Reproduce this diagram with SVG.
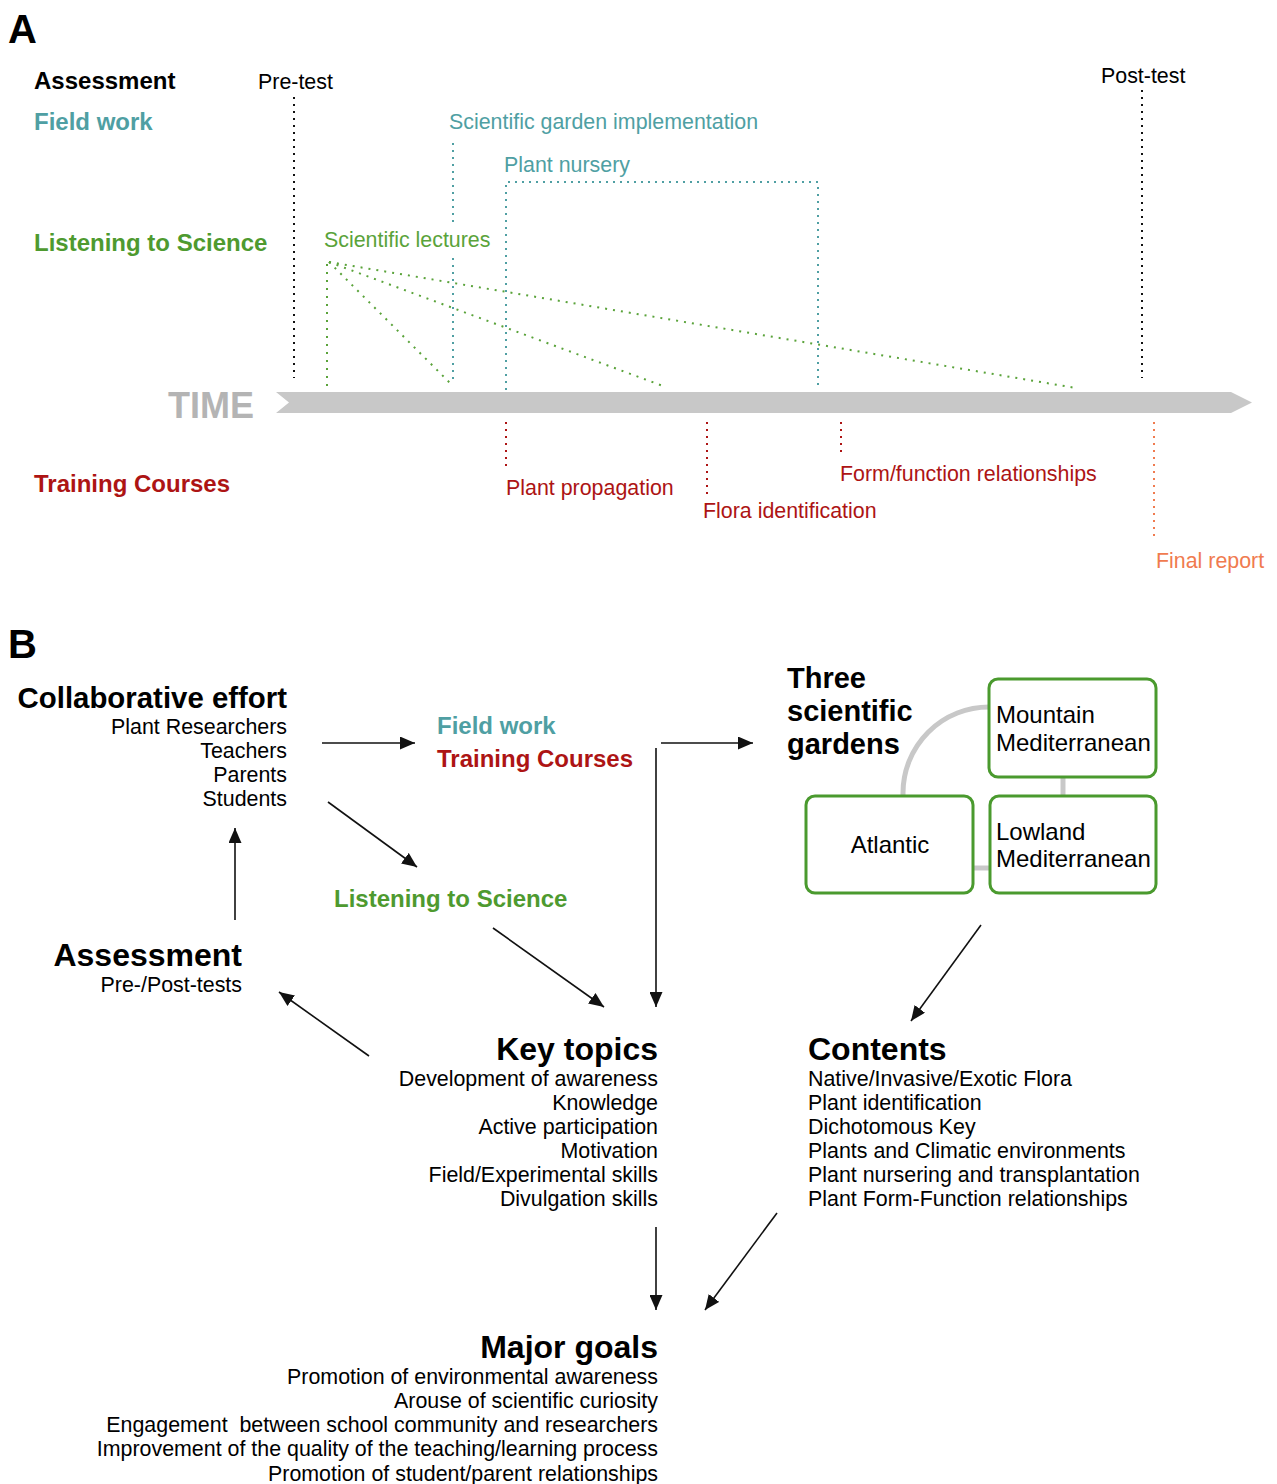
<svg xmlns="http://www.w3.org/2000/svg" width="1277" height="1484" viewBox="0 0 1277 1484">
<style>
text{font-family:"Liberation Sans",Arial,sans-serif;}
.b{font-weight:bold;}
.r{text-anchor:end;}
.s21{font-size:21.4px;}
.s24{font-size:24px;}
.s32{font-size:32px;}
.teal{fill:#4f9fa3;}
.green{fill:#4e9a2f;}
.lgreen{fill:#5aa33a;}
.red{fill:#ad1414;}
.orange{fill:#f07b4f;}
.dk{stroke:#111;stroke-width:2;stroke-dasharray:2 5;fill:none;}
.dt{stroke:#4f9fa3;stroke-width:2;stroke-dasharray:2 5;fill:none;}
.dg{stroke:#5aa33a;stroke-width:2;stroke-dasharray:2 6;fill:none;}
.dr{stroke:#ad1414;stroke-width:2;stroke-dasharray:2 5;fill:none;}
.dor{stroke:#f07b4f;stroke-width:2;stroke-dasharray:2 5;fill:none;}
.arr{stroke:#111;stroke-width:1.6;fill:none;marker-end:url(#ah);}
.box{fill:#fff;stroke:#4a9a2e;stroke-width:3;}
.gl{stroke:#c8c8c8;stroke-width:5;fill:none;}
</style>
<defs>
<marker id="ah" viewBox="0 0 15 13" refX="15" refY="6.5" markerWidth="15" markerHeight="13" orient="auto" markerUnits="userSpaceOnUse"><path d="M0,0 L15,6.5 L0,13 z" fill="#111"/></marker>
</defs>
<rect width="1277" height="1484" fill="#fff"/>

<!-- Panel A -->
<g id="panelA">
<text x="8" y="43" class="b" font-size="40">A</text>
<g id="rowlabels">
<text x="34" y="89" class="b s24">Assessment</text>
<text x="34" y="130" class="b s24 teal">Field work</text>
<text x="34" y="251" class="b s24 green">Listening to Science</text>
<text x="34" y="492" class="b s24 red">Training Courses</text>
</g>
<g id="timeline">
<polygon points="276,392 1231,392 1252,402.5 1231,413 276,413 289,402.5" fill="#c8c8c8"/>
<text x="168" y="418" class="b" font-size="36" fill="#b4b4b4">TIME</text>
</g>
<g id="pretest">
<text x="258" y="89" class="s21">Pre-test</text>
<line x1="294" y1="97" x2="294" y2="378" class="dk"/>
</g>
<g id="posttest">
<text x="1101" y="83" class="s21">Post-test</text>
<line x1="1142" y1="90" x2="1142" y2="378" class="dk"/>
</g>
<g id="garden-impl">
<text x="449" y="129" class="s21 teal">Scientific garden implementation</text>
<line x1="453" y1="143" x2="453" y2="222" class="dt"/>
<line x1="453" y1="258" x2="453" y2="383" class="dt"/>
</g>
<g id="nursery">
<text x="504" y="172" class="s21 teal">Plant nursery</text>
<path d="M506,390 V182 H818 V390" class="dt"/>
</g>
<g id="lectures">
<text x="324" y="247" class="s21 lgreen">Scientific lectures</text>
<line x1="327" y1="264" x2="327" y2="388" class="dg"/>
<line x1="329" y1="262" x2="450" y2="383" class="dg"/>
<line x1="329" y1="262" x2="663" y2="386" class="dg"/>
<line x1="329" y1="262" x2="1076" y2="388" class="dg"/>
</g>
<g id="propagation">
<line x1="506" y1="422" x2="506" y2="466" class="dr"/>
<text x="506" y="495" class="s21 red">Plant propagation</text>
</g>
<g id="flora">
<line x1="707" y1="422" x2="707" y2="497" class="dr"/>
<text x="703" y="518" class="s21 red">Flora identification</text>
</g>
<g id="formfunction">
<line x1="841" y1="422" x2="841" y2="456" class="dr"/>
<text x="840" y="481" class="s21 red">Form/function relationships</text>
</g>
<g id="finalreport">
<line x1="1154" y1="422" x2="1154" y2="541" class="dor"/>
<text x="1156" y="568" class="s21 orange">Final report</text>
</g>
</g>

<!-- Panel B -->
<g id="panelB">
<text x="8" y="658" class="b" font-size="40">B</text>
<g id="collab">
<text x="287" y="708" class="b r" font-size="29.4">Collaborative effort</text>
<text x="287" y="734" class="r s21">Plant Researchers</text>
<text x="287" y="758" class="r s21">Teachers</text>
<text x="287" y="782" class="r s21">Parents</text>
<text x="287" y="806" class="r s21">Students</text>
</g>
<g id="fieldtraining">
<text x="437" y="734" class="b s24 teal">Field work</text>
<text x="437" y="767" class="b s24 red">Training Courses</text>
</g>
<g id="listening">
<text x="334" y="907" class="b s24 green">Listening to Science</text>
</g>
<g id="gardens">
<text x="787" y="688" class="b" font-size="29">Three</text>
<text x="787" y="721" class="b" font-size="29">scientific</text>
<text x="787" y="754" class="b" font-size="29">gardens</text>
<path d="M903,796 V793 A86,86 0 0 1 989,707" class="gl"/>
<line x1="1063" y1="776" x2="1063" y2="797" class="gl"/>
<line x1="972" y1="868" x2="991" y2="868" class="gl"/>
<g id="mountain">
<rect x="989" y="679" width="167" height="98" rx="9" class="box"/>
<text x="996" y="723" class="s24">Mountain</text>
<text x="996" y="751" class="s24">Mediterranean</text>
</g>
<g id="lowland">
<rect x="990" y="796" width="166" height="97" rx="9" class="box"/>
<text x="996" y="840" class="s24">Lowland</text>
<text x="996" y="867" class="s24">Mediterranean</text>
</g>
<g id="atlantic">
<rect x="806" y="796" width="167" height="97" rx="9" class="box"/>
<text x="890" y="853" class="s24" text-anchor="middle">Atlantic</text>
</g>
</g>
<g id="assessment">
<text x="242" y="966" class="b r s32">Assessment</text>
<text x="242" y="992" class="r s21">Pre-/Post-tests</text>
</g>
<g id="keytopics">
<text x="658" y="1060" class="b r s32">Key topics</text>
<text x="658" y="1086" class="r s21">Development of awareness</text>
<text x="658" y="1110" class="r s21">Knowledge</text>
<text x="658" y="1134" class="r s21">Active participation</text>
<text x="658" y="1158" class="r s21">Motivation</text>
<text x="658" y="1182" class="r s21">Field/Experimental skills</text>
<text x="658" y="1206" class="r s21">Divulgation skills</text>
</g>
<g id="contents">
<text x="808" y="1060" class="b s32">Contents</text>
<text x="808" y="1086" class="s21">Native/Invasive/Exotic Flora</text>
<text x="808" y="1110" class="s21">Plant identification</text>
<text x="808" y="1134" class="s21">Dichotomous Key</text>
<text x="808" y="1158" class="s21">Plants and Climatic environments</text>
<text x="808" y="1182" class="s21">Plant nursering and transplantation</text>
<text x="808" y="1206" class="s21">Plant Form-Function relationships</text>
</g>
<g id="majorgoals">
<text x="658" y="1358" class="b r s32">Major goals</text>
<text x="658" y="1384" class="r s21">Promotion of environmental awareness</text>
<text x="658" y="1408" class="r s21">Arouse of scientific curiosity</text>
<text x="658" y="1432" class="r s21" xml:space="preserve">Engagement  between school community and researchers</text>
<text x="658" y="1456" class="r s21">Improvement of the quality of the teaching/learning process</text>
<text x="658" y="1481" class="r s21">Promotion of student/parent relationships</text>
</g>
</g>

<g id="connectors">
<line x1="322" y1="743" x2="415" y2="743" class="arr"/>
<line x1="328" y1="802" x2="417" y2="867" class="arr"/>
<line x1="661" y1="743" x2="753" y2="743" class="arr"/>
<line x1="656" y1="748" x2="656" y2="1007" class="arr"/>
<line x1="493" y1="928" x2="604" y2="1007" class="arr"/>
<line x1="981" y1="925" x2="911" y2="1021" class="arr"/>
<line x1="369" y1="1056" x2="279" y2="992" class="arr"/>
<line x1="235" y1="920" x2="235" y2="828" class="arr"/>
<line x1="656" y1="1227" x2="656" y2="1310" class="arr"/>
<line x1="777" y1="1213" x2="705" y2="1310" class="arr"/>
</g>
</svg>
